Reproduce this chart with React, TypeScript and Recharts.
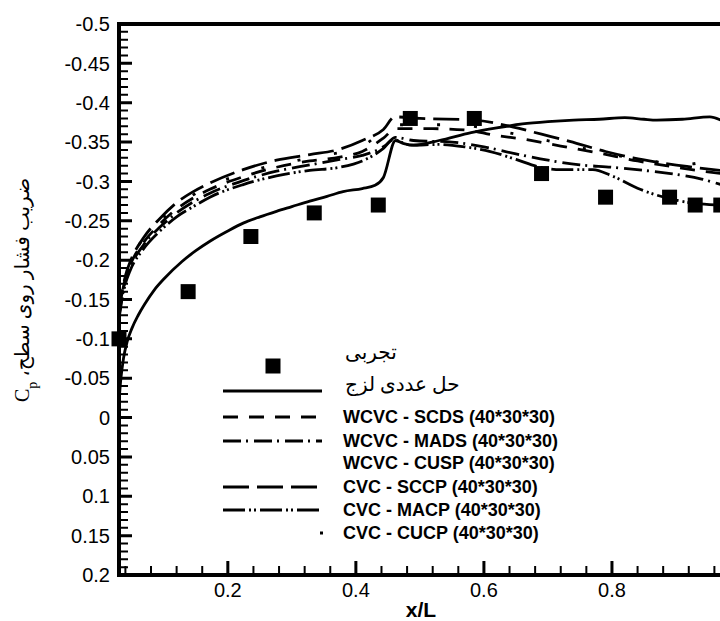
import React from 'react';
import { ComposedChart, Line, Scatter, XAxis, YAxis, ZAxis, Legend } from 'recharts';

// ---------------- data ----------------
const experiment = [
  { x: 0.03, cp: -0.1 }, { x: 0.138, cp: -0.16 }, { x: 0.236, cp: -0.23 }, { x: 0.335, cp: -0.26 },
  { x: 0.435, cp: -0.27 }, { x: 0.485, cp: -0.38 }, { x: 0.585, cp: -0.38 }, { x: 0.69, cp: -0.31 },
  { x: 0.79, cp: -0.28 }, { x: 0.89, cp: -0.28 }, { x: 0.93, cp: -0.27 }, { x: 0.97, cp: -0.27 },
];

const viscous = [
  { x: 0.03, cp: -0.02 }, { x: 0.033, cp: -0.05 }, { x: 0.037, cp: -0.075 }, { x: 0.043, cp: -0.097 },
  { x: 0.05, cp: -0.113 }, { x: 0.06, cp: -0.13 }, { x: 0.07, cp: -0.144 }, { x: 0.085, cp: -0.162 },
  { x: 0.1, cp: -0.176 }, { x: 0.128, cp: -0.198 }, { x: 0.15, cp: -0.212 }, { x: 0.172, cp: -0.224 },
  { x: 0.2, cp: -0.237 }, { x: 0.224, cp: -0.247 }, { x: 0.25, cp: -0.255 }, { x: 0.276, cp: -0.262 },
  { x: 0.3, cp: -0.268 }, { x: 0.328, cp: -0.275 }, { x: 0.355, cp: -0.281 }, { x: 0.38, cp: -0.287 },
  { x: 0.41, cp: -0.291 }, { x: 0.43, cp: -0.295 }, { x: 0.443, cp: -0.305 }, { x: 0.462, cp: -0.352 },
  { x: 0.475, cp: -0.348 }, { x: 0.49, cp: -0.346 }, { x: 0.53, cp: -0.352 }, { x: 0.58, cp: -0.362 },
  { x: 0.62, cp: -0.368 }, { x: 0.66, cp: -0.373 }, { x: 0.7, cp: -0.376 }, { x: 0.74, cp: -0.378 },
  { x: 0.78, cp: -0.379 }, { x: 0.82, cp: -0.381 }, { x: 0.85, cp: -0.379 }, { x: 0.87, cp: -0.378 },
  { x: 0.91, cp: -0.379 }, { x: 0.953, cp: -0.382 }, { x: 0.97, cp: -0.378 },
];

const wcvcScds = [
  { x: 0.03, cp: -0.13 }, { x: 0.035, cp: -0.158 }, { x: 0.04, cp: -0.177 }, { x: 0.047, cp: -0.193 },
  { x: 0.068, cp: -0.222 }, { x: 0.094, cp: -0.246 }, { x: 0.12, cp: -0.265 }, { x: 0.146, cp: -0.279 },
  { x: 0.172, cp: -0.29 }, { x: 0.224, cp: -0.306 }, { x: 0.276, cp: -0.318 }, { x: 0.328, cp: -0.326 },
  { x: 0.375, cp: -0.331 }, { x: 0.41, cp: -0.338 }, { x: 0.443, cp: -0.355 }, { x: 0.462, cp: -0.367 },
  { x: 0.52, cp: -0.367 }, { x: 0.575, cp: -0.365 }, { x: 0.614, cp: -0.359 }, { x: 0.667, cp: -0.353 },
  { x: 0.72, cp: -0.345 }, { x: 0.78, cp: -0.336 }, { x: 0.84, cp: -0.326 }, { x: 0.9, cp: -0.318 },
  { x: 0.97, cp: -0.31 },
];

const wcvcMads = [
  { x: 0.03, cp: -0.128 }, { x: 0.035, cp: -0.155 }, { x: 0.04, cp: -0.174 }, { x: 0.047, cp: -0.19 },
  { x: 0.068, cp: -0.219 }, { x: 0.094, cp: -0.242 }, { x: 0.12, cp: -0.26 }, { x: 0.146, cp: -0.274 },
  { x: 0.172, cp: -0.285 }, { x: 0.224, cp: -0.301 }, { x: 0.276, cp: -0.313 }, { x: 0.328, cp: -0.321 },
  { x: 0.375, cp: -0.328 }, { x: 0.41, cp: -0.333 }, { x: 0.445, cp: -0.345 }, { x: 0.462, cp: -0.356 },
  { x: 0.49, cp: -0.352 }, { x: 0.55, cp: -0.35 }, { x: 0.6, cp: -0.344 }, { x: 0.65, cp: -0.335 },
  { x: 0.7, cp: -0.327 }, { x: 0.75, cp: -0.321 }, { x: 0.8, cp: -0.318 }, { x: 0.85, cp: -0.314 },
  { x: 0.9, cp: -0.309 }, { x: 0.94, cp: -0.303 }, { x: 0.97, cp: -0.296 },
];

const cvcSccp = [
  { x: 0.03, cp: -0.13 }, { x: 0.035, cp: -0.16 }, { x: 0.04, cp: -0.18 }, { x: 0.047, cp: -0.197 },
  { x: 0.068, cp: -0.228 }, { x: 0.094, cp: -0.253 }, { x: 0.12, cp: -0.273 }, { x: 0.146, cp: -0.287 },
  { x: 0.172, cp: -0.298 }, { x: 0.224, cp: -0.315 }, { x: 0.276, cp: -0.327 }, { x: 0.328, cp: -0.334 },
  { x: 0.375, cp: -0.341 }, { x: 0.41, cp: -0.352 }, { x: 0.443, cp: -0.366 }, { x: 0.461, cp: -0.382 },
  { x: 0.5, cp: -0.38 }, { x: 0.585, cp: -0.378 }, { x: 0.646, cp: -0.369 }, { x: 0.69, cp: -0.36 },
  { x: 0.734, cp: -0.351 }, { x: 0.79, cp: -0.338 }, { x: 0.833, cp: -0.33 }, { x: 0.875, cp: -0.324 },
  { x: 0.917, cp: -0.319 }, { x: 0.97, cp: -0.314 },
];

const cvcMacp = [
  { x: 0.03, cp: -0.125 }, { x: 0.035, cp: -0.152 }, { x: 0.04, cp: -0.17 }, { x: 0.047, cp: -0.186 },
  { x: 0.068, cp: -0.214 }, { x: 0.094, cp: -0.237 }, { x: 0.12, cp: -0.255 }, { x: 0.146, cp: -0.268 },
  { x: 0.172, cp: -0.28 }, { x: 0.224, cp: -0.296 }, { x: 0.276, cp: -0.307 }, { x: 0.328, cp: -0.314 },
  { x: 0.375, cp: -0.318 }, { x: 0.41, cp: -0.326 }, { x: 0.443, cp: -0.342 }, { x: 0.458, cp: -0.353 },
  { x: 0.487, cp: -0.346 }, { x: 0.53, cp: -0.347 }, { x: 0.57, cp: -0.344 }, { x: 0.61, cp: -0.338 },
  { x: 0.65, cp: -0.328 }, { x: 0.688, cp: -0.318 }, { x: 0.72, cp: -0.315 }, { x: 0.77, cp: -0.315 },
  { x: 0.8, cp: -0.307 }, { x: 0.844, cp: -0.29 }, { x: 0.896, cp: -0.277 }, { x: 0.93, cp: -0.272 },
  { x: 0.97, cp: -0.27 },
];

const cvcCucp = [
  { x: 0.03, cp: -0.129 }, { x: 0.047, cp: -0.194 }, { x: 0.094, cp: -0.249 }, { x: 0.146, cp: -0.283 },
  { x: 0.224, cp: -0.31 }, { x: 0.328, cp: -0.33 }, { x: 0.41, cp: -0.345 }, { x: 0.462, cp: -0.372 },
  { x: 0.55, cp: -0.372 }, { x: 0.65, cp: -0.36 }, { x: 0.75, cp: -0.343 }, { x: 0.85, cp: -0.327 },
  { x: 0.92, cp: -0.322 }, { x: 0.97, cp: -0.335 },
];

const legendNames = [
  'تجربی',
  'حل عددی لزج',
  'WCVC - SCDS (40*30*30)',
  'WCVC - MADS (40*30*30)',
  'WCVC - CUSP (40*30*30)',
  'CVC - SCCP (40*30*30)',
  'CVC - MACP (40*30*30)',
  'CVC - CUCP (40*30*30)',
];

const yLabelText = 'ضریب فشار روی سطح، ';
const xLabelText = 'x/L';

const xLabelTicks = [0.2, 0.4, 0.6, 0.8];
const yMajorTicks = [-0.5, -0.45, -0.4, -0.35, -0.3, -0.25, -0.2, -0.15, -0.1, -0.05, 0, 0.05, 0.1, 0.15, 0.2];
const yAllTicks = Array.from({ length: 71 }, (_, i) => Math.round((-0.5 + i * 0.01) * 100) / 100);
const xAllTicks = Array.from({ length: 25 }, (_, i) => Math.round(0.04 * (i + 1) * 100) / 100);

// ---------------- layout / styles ----------------
const CHART_W = 760;
const CHART_H = 621;
const MARGIN = { top: 24, right: 20, bottom: 0, left: 0 };
const Y_AXIS_W = 119;
const X_AXIS_H = 46;
const X_DOMAIN: [number, number] = [0.03, 1.0];
const Y_DOMAIN: [number, number] = [-0.5, 0.2];
const PLOT_W = CHART_W - MARGIN.left - MARGIN.right - Y_AXIS_W;
const PLOT_H = CHART_H - MARGIN.top - MARGIN.bottom - X_AXIS_H;
const X_PER_PX = (X_DOMAIN[1] - X_DOMAIN[0]) / PLOT_W;
const Y_PER_PX = (Y_DOMAIN[1] - Y_DOMAIN[0]) / PLOT_H;

const DASH_SCDS = '15 11';
const DASH_MADS = '18 5 2 6';
const DASH_SCCP = '26 8';
const DASH_MACP = '22 4 2 3 2 4';
const DASH_CUCP = '3 34';
const SANS = "'Liberation Sans', Arial, sans-serif";
const SERIF = "'Liberation Serif', 'DejaVu Sans', serif";

const isMajorY = (v: number) => Math.round(v * 100) % 5 === 0;
const isMajorX = (v: number) => Math.round(v * 100) % 20 === 0;

// frame and inward tick marks, drawn as broken polylines through the chart scales
const frameOutline = [
  { x: X_DOMAIN[0], cp: Y_DOMAIN[1] }, { x: X_DOMAIN[0], cp: Y_DOMAIN[0] },
  { x: X_DOMAIN[1], cp: Y_DOMAIN[0] }, { x: X_DOMAIN[1], cp: Y_DOMAIN[1] },
  { x: X_DOMAIN[0], cp: Y_DOMAIN[1] },
];
const buildXTickPath = (vals: number[], lenPx: number) =>
  vals.flatMap((v) => [
    { x: v, cp: Y_DOMAIN[1] },
    { x: v, cp: Y_DOMAIN[1] - lenPx * Y_PER_PX },
    { x: v, cp: null },
  ]);
const buildYTickPath = (vals: number[], lenPx: number) =>
  vals.flatMap((v) => [
    { x: X_DOMAIN[0], cp: v },
    { x: X_DOMAIN[0] + lenPx * X_PER_PX, cp: v },
    { x: X_DOMAIN[0] + lenPx * X_PER_PX + 0.0001, cp: null },
  ]);
const xMajorTickPath = buildXTickPath(xAllTicks.filter(isMajorX), 14);
const xMinorTickPath = buildXTickPath(xAllTicks.filter((v) => !isMajorX(v)), 9);
const yMajorTickPath = buildYTickPath(yAllTicks.filter(isMajorY), 13);
const yMinorTickPath = buildYTickPath(yAllTicks.filter((v) => !isMajorY(v)), 9);

const fmtY = (v: number) => {
  const r = Math.round(v * 100) / 100;
  return r === 0 ? '0' : String(r);
};

const XTickLabel = (props: any) => {
  const { x, y, payload } = props;
  return (
    <text x={x} y={y + 22} textAnchor="middle" fontSize={20} fontFamily={SANS} fill="#000">
      {String(Math.round(payload.value * 100) / 100)}
    </text>
  );
};

const YTickLabel = (props: any) => {
  const { x, y, payload } = props;
  return (
    <text x={x - 9} y={y} dy="0.36em" textAnchor="end" fontSize={20} fontFamily={SANS} fill="#000">
      {fmtY(payload.value)}
    </text>
  );
};

const renderYLabel = () => (
  <text
    transform="translate(29, 290) rotate(-90)"
    textAnchor="middle"
    direction="rtl"
    fontSize={20}
    fontFamily={SERIF}
    fill="#000"
  >
    {yLabelText}
    <tspan>C</tspan>
    <tspan baselineShift="sub" fontSize={14}>p</tspan>
  </text>
);

const renderXLabel = () => (
  <text x={421} y={617} textAnchor="middle" fontSize={21} fontWeight="bold" fontFamily={SANS} fill="#000">
    {xLabelText}
  </text>
);

const renderLegend = () => {
  const lx1 = 13;
  const lx2 = 112;
  const tx = 133;
  const rows = [28, 53, 79, 103, 125, 149, 172, 195];
  const dashes = [null, undefined, DASH_SCDS, DASH_MADS, 'none', DASH_SCCP, DASH_MACP, 'dot'];
  return (
    <svg width={360} height={215} style={{ display: 'block' }}>
      <rect x={63 - 7.5} y={rows[0] - 7.5} width={15} height={15} fill="#000" />
      <text x={135} y={14} dominantBaseline="central" fontSize={20} fontFamily={SERIF} fill="#000">
        {legendNames[0]}
      </text>
      <line x1={lx1} x2={lx2} y1={rows[1]} y2={rows[1]} stroke="#000" strokeWidth={3} />
      <text x={135} y={46} dominantBaseline="central" fontSize={20} fontFamily={SERIF} fill="#000">
        {legendNames[1]}
      </text>
      {legendNames.slice(2).map((name, i) => {
        const idx = i + 2;
        const y = rows[idx];
        const d = dashes[idx];
        return (
          <g key={name}>
            {d === 'dot' ? (
              <rect x={lx2 - 2} y={y - 1.5} width={3} height={3} fill="#000" />
            ) : d !== 'none' ? (
              <line x1={lx1} x2={lx2} y1={y} y2={y} stroke="#000" strokeWidth={3} strokeDasharray={d as string} />
            ) : null}
            <text x={tx} y={y} dominantBaseline="central" fontSize={18} fontWeight="bold" fontFamily={SANS} fill="#000">
              {name}
            </text>
          </g>
        );
      })}
    </svg>
  );
};

const lineCommon = {
  dataKey: 'cp',
  stroke: '#000',
  strokeWidth: 2.8,
  dot: false,
  activeDot: false,
  isAnimationActive: false,
  type: 'monotoneX' as const,
  xAxisId: 'x',
  yAxisId: 'y',
  legendType: 'none' as const,
};

const decoCommon = {
  dataKey: 'cp',
  stroke: '#000',
  dot: false,
  activeDot: false,
  isAnimationActive: false,
  type: 'linear' as const,
  xAxisId: 'x',
  yAxisId: 'y',
  legendType: 'none' as const,
  connectNulls: false,
};

export default function App() {
  return (
    <div style={{ width: 720, height: 621, overflow: 'hidden', position: 'relative', background: '#fff' }}>
      <style>{'body{margin:0;overflow:hidden;background:#fff}'}</style>
      <ComposedChart width={CHART_W} height={CHART_H} margin={MARGIN}>
        <XAxis
          xAxisId="x"
          dataKey="x"
          type="number"
          domain={X_DOMAIN}
          ticks={xLabelTicks}
          interval={0}
          tickSize={0}
          tickMargin={0}
          tickLine={false}
          tick={<XTickLabel />}
          height={X_AXIS_H}
          axisLine={false}
          label={renderXLabel}
        />
        <YAxis
          yAxisId="y"
          type="number"
          domain={Y_DOMAIN}
          reversed
          ticks={yMajorTicks}
          interval={0}
          tickSize={0}
          tickMargin={0}
          tickLine={false}
          tick={<YTickLabel />}
          width={Y_AXIS_W}
          axisLine={false}
          label={renderYLabel}
        />
        <ZAxis zAxisId="z" range={[225, 225]} />

        <Line {...decoCommon} data={xMinorTickPath} strokeWidth={2} />
        <Line {...decoCommon} data={yMinorTickPath} strokeWidth={2} />
        <Line {...decoCommon} data={xMajorTickPath} strokeWidth={3} />
        <Line {...decoCommon} data={yMajorTickPath} strokeWidth={3} />
        <Line {...decoCommon} data={frameOutline} strokeWidth={4} strokeLinecap="square" />

        <Line {...lineCommon} data={viscous} name={legendNames[1]} />
        <Line {...lineCommon} data={wcvcScds} name={legendNames[2]} strokeDasharray={DASH_SCDS} />
        <Line {...lineCommon} data={wcvcMads} name={legendNames[3]} strokeDasharray={DASH_MADS} />
        <Line {...lineCommon} data={cvcSccp} name={legendNames[5]} strokeDasharray={DASH_SCCP} />
        <Line {...lineCommon} data={cvcMacp} name={legendNames[6]} strokeDasharray={DASH_MACP} />
        <Line {...lineCommon} data={cvcCucp} name={legendNames[7]} strokeDasharray={DASH_CUCP} />
        <Scatter
          xAxisId="x"
          yAxisId="y"
          zAxisId="z"
          data={experiment}
          dataKey="cp"
          name={legendNames[0]}
          shape="square"
          fill="#000"
          isAnimationActive={false}
        />
        <Legend
          layout="vertical"
          align="center"
          verticalAlign="middle"
          content={renderLegend}
          wrapperStyle={{ position: 'absolute', left: 210, top: 338, width: 360, height: 215 }}
        />
      </ComposedChart>
    </div>
  );
}
